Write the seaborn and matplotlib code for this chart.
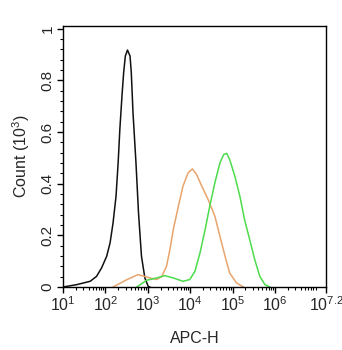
import numpy as np
import pandas as pd
import seaborn as sns
import matplotlib
matplotlib.use("Agg")
import matplotlib.pyplot as plt

# log10(APC-H) positions and counts (10^3)
black_x = [1.00, 1.32, 1.64, 1.79, 1.91, 2.03, 2.11, 2.18, 2.25, 2.30, 2.34, 2.39, 2.43, 2.47, 2.52,
           2.58, 2.61, 2.65, 2.72, 2.78, 2.85, 2.93, 3.01, 3.05]
black_y = [0.000, 0.009, 0.022, 0.041, 0.074, 0.119, 0.171, 0.248, 0.351, 0.481, 0.610, 0.739, 0.830, 0.894, 0.917,
           0.894, 0.830, 0.675, 0.481, 0.287, 0.119, 0.035, 0.002, 0.000]

orange_x = [2.18, 2.50, 2.77, 3.05, 3.21, 3.33, 3.44, 3.52, 3.60, 3.72, 3.83, 3.95, 4.05, 4.15, 4.27,
            4.42, 4.58, 4.70, 4.82, 4.93, 5.09, 5.25]
orange_y = [0.000, 0.028, 0.048, 0.035, 0.029, 0.041, 0.080, 0.145, 0.222, 0.313, 0.391, 0.442, 0.457, 0.435, 0.391,
            0.339, 0.274, 0.196, 0.119, 0.054, 0.016, 0.000]

green_x = [2.74, 2.97, 3.05, 3.21, 3.40, 3.60, 3.83, 3.99, 4.11, 4.23, 4.35, 4.46, 4.58, 4.70, 4.79, 4.86,
           4.93, 5.05, 5.17, 5.28, 5.40, 5.52, 5.64, 5.76, 5.88]
green_y = [0.000, 0.026, 0.029, 0.035, 0.044, 0.035, 0.022, 0.029, 0.061, 0.132, 0.222, 0.313, 0.403, 0.481, 0.513, 0.517,
           0.493, 0.429, 0.351, 0.261, 0.184, 0.106, 0.041, 0.009, 0.000]

x_ticks = [1, 2, 3, 4, 5, 6, 7.2]
x_tick_labels = [r"$10^{1}$", r"$10^{2}$", r"$10^{3}$", r"$10^{4}$", r"$10^{5}$", r"$10^{6}$", r"$10^{7.2}$"]
y_ticks = [0, 0.2, 0.4, 0.6, 0.8, 1]
y_tick_labels = ["0", "0.2", "0.4", "0.6", "0.8", "1"]

df = pd.concat([
    pd.DataFrame({"x": black_x, "y": black_y, "s": "black"}),
    pd.DataFrame({"x": orange_x, "y": orange_y, "s": "orange"}),
    pd.DataFrame({"x": green_x, "y": green_y, "s": "green"}),
])

sns.set_style("white")
plt.rcParams["font.family"] = ["Liberation Sans", "DejaVu Sans"]
plt.rcParams["mathtext.fontset"] = "custom"
plt.rcParams["mathtext.rm"] = "Liberation Sans"
plt.rcParams["mathtext.it"] = "Liberation Sans"

fig = plt.figure(figsize=(3.42, 3.5), dpi=100)
ax = fig.add_axes([63 / 342, 1 - 287 / 350, (326 - 63) / 342, (287 - 26) / 350])

palette = {"black": "#111111", "orange": "#e8a46c", "green": "#4cdc4c"}
sns.lineplot(data=df, x="x", y="y", hue="s", palette=palette, ax=ax,
             legend=False, linewidth=1.1, sort=False, estimator=None)

ax.set_xlim(1, 7.2)
ax.set_ylim(0, 1.01)
ax.set_xticks(x_ticks)
ax.set_xticklabels(x_tick_labels, fontsize=11.5)
minor = []
for d in range(1, 8):
    for k in range(2, 10):
        v = d + np.log10(k)
        if v < 7.2:
            minor.append(v)
ax.set_xticks(minor, minor=True)
ax.set_yticks(y_ticks)
ax.set_yticklabels(y_tick_labels, fontsize=11, rotation=90, va="center")
ax.set_yticks(np.arange(0, 1.001, 0.04), minor=True)

ax.tick_params(axis="both", which="major", direction="out", length=4, width=1, color="black",
               bottom=True, left=True, top=False, right=False, pad=2)
ax.tick_params(axis="both", which="minor", direction="out", length=2.5, width=0.8, color="black",
               bottom=True, left=True)
for sp in ax.spines.values():
    sp.set_color("black")
    sp.set_linewidth(1.0)

ax.set_xlabel("APC-H", fontsize=11.5, labelpad=12)
ax.set_ylabel(r"Count ($10^{3}$)", fontsize=11.5, labelpad=6)

fig.savefig("out.png", dpi=100)
